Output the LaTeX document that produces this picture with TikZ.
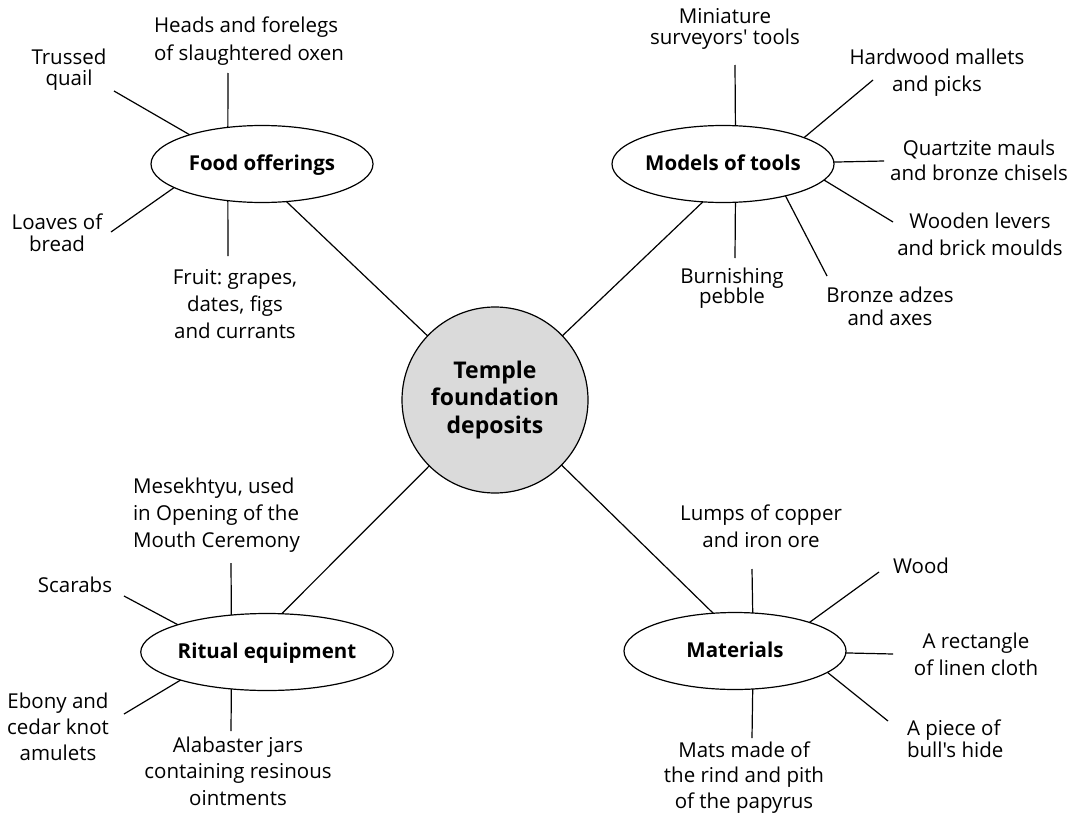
\documentclass[tikz,border=0pt]{standalone}
\usepackage{fontspec}
\setmainfont{Open Sans}[Ligatures=TeXOff]
\usetikzlibrary{shapes.geometric}
\definecolor{hubfill}{RGB}{218,218,218}
\newcommand{\mystrut}{\rule{0pt}{17pt}}
\begin{document}
\frenchspacing
\lineskiplimit=-100pt
\begin{tikzpicture}[x=1pt,y=-1pt,
  every node/.style={inner sep=0pt, outer sep=0pt},
  conn/.style={line width=1.2pt, draw=black},
  hub/.style={circle, draw, line width=1.2pt, fill=hubfill, minimum size=186pt, align=center,
    font=\fontsize{23}{27.5}\selectfont\bfseries},
  cat/.style={ellipse, draw, line width=1.2pt, minimum width=222pt, minimum height=77pt,
    font=\fontsize{20.5}{24}\selectfont\bfseries, text height=15pt, text depth=3pt},
  leaf/.style={align=center, anchor=north, font=\fontsize{20.5}{27}\selectfont},
  leafl/.style={align=left, anchor=north west, font=\fontsize{20.5}{27}\selectfont},
  pitch/.style={font=\fontsize{20.5}{#1}\selectfont},
]
\useasboundingbox (0,0) rectangle (1086,816);

% hub and categories
\node[hub] (hub) at (495,400) {Temple\\foundation\\deposits};
\node[cat] (food) at (262,164) {Food offerings};
\node[cat] (tools) at (723,164) {Models of tools};
\node[cat] (ritual) at (267,652) {Ritual equipment};
\node[cat] (mat) at (735,651) {Materials};

\draw[conn] (food.-57.3) -- (hub);
\draw[conn] (tools.-118.3) -- (hub);
\draw[conn] (ritual.69) -- (hub);
\draw[conn] (mat.120.5) -- (hub);

% Food offerings leaves
\node[leafl, pitch=28] (heads) at (154,15) {\mystrut Heads and forelegs\\of slaughtered oxen};
\node[leaf, pitch=21] (quail) at (69,47) {\mystrut Trussed\\quail};
\node[leaf, pitch=22] (loaves) at (57,212) {\mystrut Loaves of\\bread};
\node[leaf, pitch=27] (fruit) at (235,267) {\mystrut Fruit: grapes,\\dates, figs\\and currants};
\coordinate (cheads) at (228,73);
\coordinate (cquail) at (114,91);
\coordinate (cloaves) at (111,232);
\coordinate (cfruit) at (228,256);
\draw[conn] (cheads) -- (food.133.2);
\draw[conn] (cquail) -- (food.158.6);
\draw[conn] (cloaves) -- (food.195.7);
\draw[conn] (cfruit) -- (food.-133.2);

% Models of tools leaves
\node[leaf, pitch=21] (mini) at (725,7) {\mystrut Miniature\\surveyors' tools};
\node[leaf, pitch=27] (hard) at (937,47) {\mystrut Hardwood mallets\\and picks};
\node[leaf, pitch=25] (quartz) at (979,138) {\mystrut Quartzite mauls\\and bronze chisels};
\node[leaf, pitch=27] (wooden) at (980,211) {\mystrut Wooden levers\\and brick moulds};
\node[leaf, pitch=23] (bronze) at (890,285) {\mystrut Bronze adzes\\and axes};
\node[leaf, pitch=20] (burn) at (732,266) {\mystrut Burnishing\\pebble};
\coordinate (cmini) at (735,65);
\coordinate (chard) at (873,80);
\coordinate (cquartz) at (884,161);
\coordinate (cwooden) at (893,222);
\coordinate (cbronze) at (827,276);
\coordinate (cburn) at (735,258);
\draw[conn] (cmini) -- (tools.72.4);
\draw[conn] (chard) -- (tools.18.6);
\draw[conn] (cquartz) -- (tools.1.55);
\draw[conn] (cwooden) -- (tools.-9.9);
\draw[conn] (cbronze) -- (tools.-27.3);
\draw[conn] (cburn) -- (tools.-72.4);

% Ritual equipment leaves
\node[leafl, pitch=27] (mesek) at (133,476) {\mystrut Mesekhtyu, used\\in Opening of the\\Mouth Ceremony};
\node[leaf] (scarabs) at (75,575) {\mystrut Scarabs};
\node[leaf, pitch=26] (ebony) at (58,691) {\mystrut Ebony and\\cedar knot\\amulets};
\node[leaf, pitch=26.5] (alab) at (238,735) {\mystrut Alabaster jars\\containing resinous\\ointments};
\coordinate (cmesek) at (231,563);
\coordinate (cscarabs) at (124,596);
\coordinate (cebony) at (124,714);
\coordinate (calab) at (231,731);
\draw[conn] (cmesek) -- (ritual.134.7);
\draw[conn] (cscarabs) -- (ritual.163.4);
\draw[conn] (cebony) -- (ritual.-162.2);
\draw[conn] (calab) -- (ritual.-134.7);

% Materials leaves
\node[leaf, pitch=27] (lumps) at (761,503) {\mystrut Lumps of copper\\and iron ore};
\node[leaf] (wood) at (921,556) {\mystrut Wood};
\node[leaf, pitch=27] (rect) at (976,631) {\mystrut A rectangle\\of linen cloth};
\node[leafl, pitch=22] (piece) at (907,718) {\mystrut A piece of\\bull's hide};
\node[leaf, pitch=25.5] (mats) at (744,740) {\mystrut Mats made of\\the rind and pith\\of the papyrus};
\coordinate (clumps) at (752,569);
\coordinate (cwood) at (879,572);
\coordinate (crect) at (893,654);
\coordinate (cpiece) at (888,721);
\coordinate (cmats) at (752,738);
\draw[conn] (clumps) -- (mat.65.9);
\draw[conn] (cwood) -- (mat.21.5);
\draw[conn] (crect) -- (mat.-1.56);
\draw[conn] (cpiece) -- (mat.-13.7);
\draw[conn] (cmats) -- (mat.-65.9);
\end{tikzpicture}
\end{document}
